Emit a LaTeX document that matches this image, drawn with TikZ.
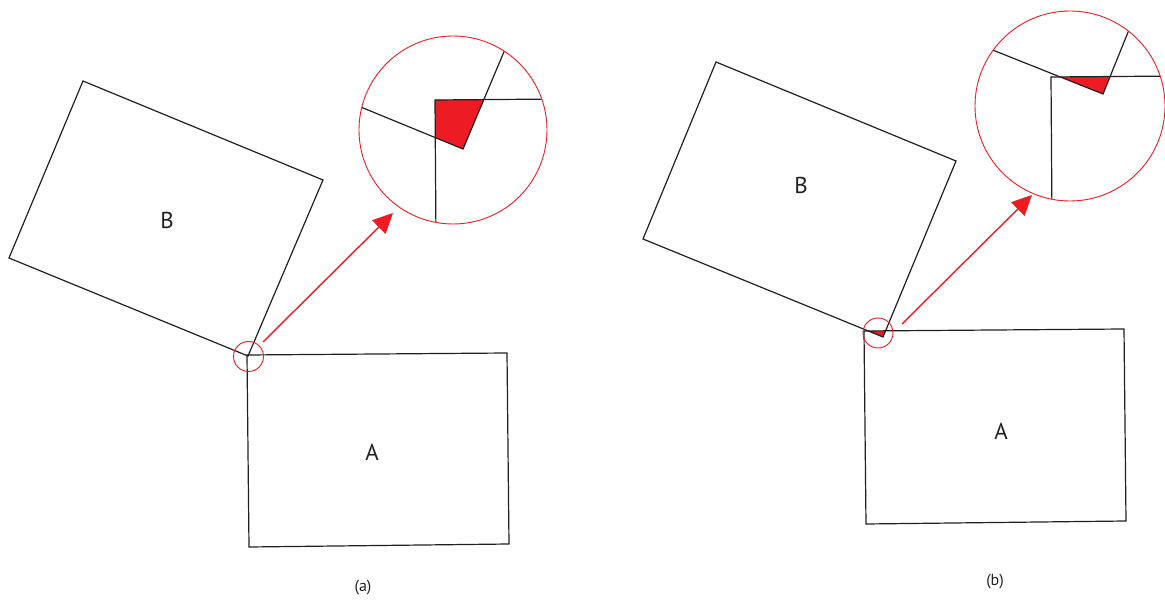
\documentclass[tikz,border=0pt]{standalone}
\usepackage{fontspec}
\setmainfont{PT Sans}
\usetikzlibrary{arrows.meta}
\definecolor{rd}{HTML}{ED1C24}
\definecolor{ink}{HTML}{231F20}
\begin{document}
\begin{tikzpicture}[x=1pt,y=-1pt,
  edge/.style={draw=ink, line width=1.2pt, line join=miter},
  lens/.style={draw=rd, line width=0.9pt, circle, inner sep=0pt},
  pointer/.style={draw=rd, line width=1.4pt, -{Triangle[length=20pt,width=19pt]}},
  hit/.style={fill=rd},
  lbl/.style={text=ink, font=\fontsize{23}{23}\selectfont},
  sublabel/.style={text=ink, font=\fontsize{16}{16}\selectfont}]
\useasboundingbox (0,0) rectangle (1165,601);

% ---------------- panel (a) ----------------
\fill[hit] (247,355) -- (248.8,355) -- (248,356.3) -- (247,355.8) -- cycle;
\draw[edge] (83,81) -- (323,180) -- (248,356) -- (9,258) -- cycle;
\draw[edge] (247,355) -- (507,353) -- (509,544) -- (249,547) -- cycle;
\node[lbl] (Ba) at (167,220) {B};
\node[lbl] (Aa) at (372,452) {A};
\node[sublabel] (capa) at (363,588) {(a)};
\node[lens, minimum size=30pt] (sa) at (248.5,356.5) {};

\begin{scope}
  \clip (453,130) circle[radius=94pt];
  \fill[hit] (435,100) -- (483.6,100) -- (463,149) -- (435,137.5) -- cycle;
  \draw[edge] (560,99) -- (435,100) -- (436,240);
  \draw[edge] (340,98.5) -- (463,149) -- (514,28);
\end{scope}
\node[lens, minimum size=188pt] (za) at (453,130) {};
\coordinate (pa1) at (263,342);
\coordinate (pa2) at (393,213);
\draw[pointer] (pa1) -- (pa2);

% ---------------- panel (b) ----------------
\fill[hit] (868.3,331) -- (885.5,331) -- (883,337) -- cycle;
\draw[edge] (716,62) -- (956,161) -- (883,337) -- (643,239) -- cycle;
\draw[edge] (864,331) -- (1124,329) -- (1126,521) -- (866,524) -- cycle;
\node[lbl] (Bb) at (801,185) {B};
\node[lbl] (Ab) at (1001,431) {A};
\node[sublabel] (capb) at (995,582) {(b)};
\node[lens, minimum size=30pt] (sb) at (878,333) {};

\begin{scope}
  \clip (1070,106) circle[radius=95pt];
  \fill[hit] (1060.5,77) -- (1110,77) -- (1103,94) -- cycle;
  \draw[edge] (1180,76) -- (1051,77) -- (1052,220);
  \draw[edge] (970,41) -- (1103,94) -- (1135,15);
\end{scope}
\node[lens, minimum size=190pt] (zb) at (1070,106) {};
\coordinate (pb1) at (902,324);
\coordinate (pb2) at (1032,195);
\draw[pointer] (pb1) -- (pb2);
\end{tikzpicture}
\end{document}
